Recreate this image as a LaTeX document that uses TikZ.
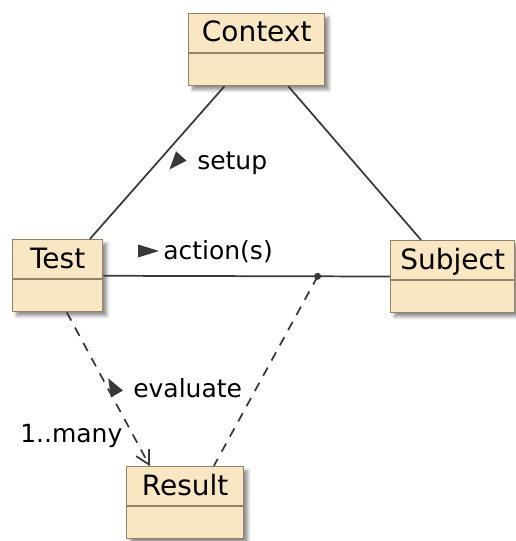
\documentclass[tikz,border=0pt]{standalone}
\usepackage{fontspec}
\setmainfont{DejaVu Sans}
\usepackage{tikz}
\usetikzlibrary{positioning,calc,arrows.meta,shadows.blur}

\definecolor{classfill}{RGB}{249,231,196}
\definecolor{classborder}{RGB}{146,130,104}
\definecolor{linec}{RGB}{56,56,56}

\tikzset{
  classbox/.style={draw=classborder, fill=classfill, line width=1pt, inner sep=0pt,
    anchor=north west, minimum height=54pt,
    blur shadow={shadow xshift=3pt, shadow yshift=-3pt, shadow blur radius=2.5pt,
      shadow blur steps=6, shadow opacity=45}},
  classname/.style={anchor=base, inner sep=0pt, font=\fontsize{21}{25}\selectfont},
  divider/.style={draw=classborder, line width=1pt},
  assoc/.style={draw=linec, line width=1.3pt},
  depend/.style={draw=linec, line width=1.3pt, dash pattern=on 7pt off 6pt},
  edgelabel/.style={anchor=base west, inner sep=0pt, font=\fontsize{18.75}{22}\selectfont},
}

\begin{document}
\begin{tikzpicture}[x=0.75pt,y=0.75pt,yscale=-1,xscale=1]
\useasboundingbox (0,0) rectangle (516,541);

%Shape: Class Context
\node[classbox, minimum width=102pt] (ctx) at (188,13) {};
\draw[divider] ($(ctx.north west)+(0,40)$) -- ($(ctx.north east)+(0,40)$);
\node[classname] (ctxname) at ($(ctx.north)+(0,29)$) {Context};
%Shape: Class Test
\node[classbox, minimum width=67.5pt] (test) at (12,239) {};
\draw[divider] ($(test.north west)+(0,40)$) -- ($(test.north east)+(0,40)$);
\node[classname] (testname) at ($(test.north)+(0,29)$) {Test};
%Shape: Class Subject
\node[classbox, minimum width=93pt] (subj) at (390,240) {};
\draw[divider] ($(subj.north west)+(0,40)$) -- ($(subj.north east)+(0,40)$);
\node[classname] (subjname) at ($(subj.north)+(0,29)$) {Subject};
%Shape: Class Result
\node[classbox, minimum width=87.75pt] (res) at (126,466) {};
\draw[divider] ($(res.north west)+(0,40)$) -- ($(res.north east)+(0,40)$);
\node[classname] (resname) at ($(res.north)+(0,29)$) {Result};

%Straight Lines: associations
\draw[assoc] (ctx) -- (test);
\draw[assoc] (ctx) -- (subj);
\draw[assoc] (test) -- (subj);
\coordinate (mid) at ($(test)!0.658!(subj)$);
\fill[linec] (mid) circle (3.5);
%Dashed Lines
\draw[depend, -{Straight Barb[length=10pt,width=11pt,line width=1.3pt]}] (test.284) -- (res.134);
\draw[depend] (mid) -- (res.52);

%Direction marks
\fill[linec] (169.4,169.5) -- (186.5,160.7) -- (176.1,151.3) -- cycle;
\fill[linec] (159,251) -- (138,244.5) -- (138,257.5) -- cycle;
\fill[linec] (108.2,378.3) -- (123.0,390.6) -- (110.8,397.4) -- cycle;

% Text Node
\node[edgelabel] (setuplbl) at (197,170) {setup};
% Text Node
\node[edgelabel] (actlbl) at (163,259) {action(s)};
% Text Node
\node[edgelabel] (evallbl) at (133,397) {evaluate};
% Text Node
\node[edgelabel] (manylbl) at (20,442) {1..many};
\end{tikzpicture}
\end{document}
